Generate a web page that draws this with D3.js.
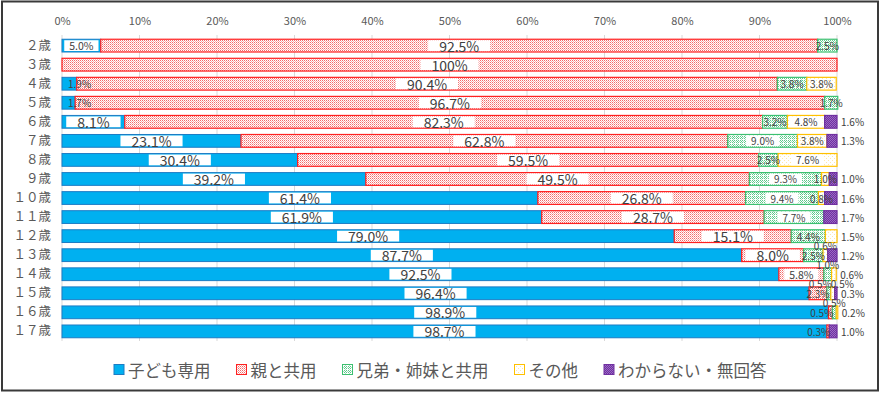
<!DOCTYPE html>
<html>
<head>
<meta charset="utf-8">
<script src="https://cdn.jsdelivr.net/npm/d3@7"></script>
<style>
  body { margin: 0; background: #fff; }
  text { font-family: "Noto Sans CJK JP", "Noto Sans", sans-serif; }
</style>
</head>
<body>
<div id="chart"></div>
<script>
// categories and series
const ages = ["２歳", "３歳", "４歳", "５歳", "６歳", "７歳", "８歳", "９歳", "１０歳", "１１歳", "１２歳", "１３歳", "１４歳", "１５歳", "１６歳", "１７歳"];
const seriesNames = ["子ども専用", "親と共用", "兄弟・姉妹と共用", "その他", "わからない・無回答"];

// values (%) per age
const kodomo = [5.0, 0, 1.9, 1.7, 8.1, 23.1, 30.4, 39.2, 61.4, 61.9, 79.0, 87.7, 92.5, 96.4, 98.9, 98.7];
const oya = [92.5, 100, 90.4, 96.7, 82.3, 62.8, 59.5, 49.5, 26.8, 28.7, 15.1, 8.0, 5.8, 2.3, 0.5, 0.3];
const kyodai = [2.5, 0, 3.8, 1.7, 3.2, 9.0, 2.5, 9.3, 9.4, 7.7, 4.4, 2.5, 1.0, 0.5, 0.5, 0];
const sonota = [0, 0, 3.8, 0, 4.8, 3.8, 7.6, 1.0, 0.8, 0, 1.5, 0.6, 0.6, 0.5, 0.2, 0];
const fumei = [0, 0, 0, 0, 1.6, 1.3, 0, 1.0, 1.6, 1.7, 0, 1.2, 0, 0.3, 0, 1.0];

const xTicks = [0, 10, 20, 30, 40, 50, 60, 70, 80, 90, 100];

// labels that Excel moved above the bar (row -> series index -> mode)
const aboveLabels = {
    "１３歳": { 3: "above" },
    "１４歳": { 2: "above" },
    "１５歳": { 2: "aboveL", 3: "aboveR" },
    "１６歳": { 2: "above" }
};

const values = [kodomo, oya, kyodai, sonota, fumei];
const colors = ["#00B0F0", "#FF0000", "#00B050", "#FFC000", "#7030A0"];
const strokes = ["#1C7CC4", "#FF2020", "#3CC070", "#FFC000", "#7030A0"];

const width = 882, height = 394;
const svg = d3.select("#chart").append("svg")
    .attr("width", width)
    .attr("height", height);

// fill patterns
const defs = svg.append("defs");
const pat = (id, size, bg, dots) => {
    const p = defs.append("pattern").attr("id", id)
        .attr("patternUnits", "userSpaceOnUse")
        .attr("width", size).attr("height", size);
    p.append("rect").attr("width", size).attr("height", size).attr("fill", bg);
    dots.forEach(d => p.append("rect").attr("x", d[0]).attr("y", d[1])
        .attr("width", 1).attr("height", 1).attr("fill", d[2]));
};
pat("p1", 2, "#FFFFFF", [[0, 0, "#F46A6A"], [1, 1, "#F9B0B0"]]);
// green: little checker blocks separated by white lines
pat("p2", 4, "#FFFFFF", [[0, 0, "#5CC98A"], [2, 0, "#5CC98A"], [1, 1, "#5CC98A"], [0, 2, "#5CC98A"], [2, 2, "#5CC98A"], [1, 3, "#A8E2C0"], [3, 1, "#A8E2C0"]]);
pat("p3", 4, "#FFFFFF", [[0, 0, "#FFE9A8"], [2, 2, "#FFE9A8"]]);
pat("p4", 2, "#7030A0", [[0, 0, "#9A6AC4"], [1, 1, "#9A6AC4"]]);
const fills = [colors[0], "url(#p1)", "url(#p2)", "url(#p3)", "url(#p4)"];

// frame
svg.append("rect")
    .attr("x", 2).attr("y", 1.5)
    .attr("width", 876).attr("height", 389)
    .attr("fill", "none")
    .attr("stroke", "#3A3A3A")
    .attr("stroke-width", 2);

const x = d3.scaleLinear().domain([0, 100]).range([62, 837]);
const y = d3.scaleBand().domain(ages).range([36, 341]).paddingInner(0.33).paddingOuter(0.17);

// grid
svg.append("g")
    .selectAll("line")
    .data(xTicks)
    .join("line")
    .attr("x1", d => x(d)).attr("x2", d => x(d))
    .attr("y1", 35).attr("y2", 341)
    .attr("stroke", "#D9D9D9");

// top axis
const xAxis = svg.append("g")
    .attr("transform", "translate(0,28)")
    .call(d3.axisTop(x).tickValues(xTicks).tickFormat(d => d + "%").tickSize(0))
    .call(g => g.select(".domain").remove());
xAxis.selectAll("text")
    .attr("fill", "#595959")
    .style("font-size", "11px")
    .style("font-family", "'Noto Sans CJK JP', sans-serif");

// left axis
const yAxis = svg.append("g")
    .attr("transform", "translate(51,0)")
    .call(d3.axisLeft(y).tickSize(0).tickPadding(0))
    .call(g => g.select(".domain").remove());
yAxis.selectAll("text")
    .attr("fill", "#595959")
    .style("font-size", "12.5px")
    .style("font-family", "'Noto Sans CJK JP', sans-serif");

// stacked segments
const rows = ages.map((a, i) => {
    const r = { age: a };
    seriesNames.forEach((s, k) => r[s] = values[k][i]);
    return r;
});
const stack = d3.stack().keys(seriesNames)(rows);

const barG = svg.append("g");
stack.forEach((layer, k) => {
    barG.append("g")
        .selectAll("rect")
        .data(layer.filter(d => d[1] - d[0] > 0))
        .join("rect")
        .attr("x", d => x(d[0]))
        .attr("y", d => y(d.data.age))
        .attr("width", d => x(d[1]) - x(d[0]))
        .attr("height", y.bandwidth())
        .attr("fill", fills[k])
        .attr("stroke", strokes[k])
        .attr("stroke-width", k == 0 ? 1 : 1.2);
});

// data labels
const labelG = svg.append("g");
stack.forEach((layer, k) => {
    layer.forEach((d, i) => {
        const v = d[1] - d[0];
        if (v <= 0) return;
        const age = d.data.age;
        const x0 = x(d[0]), x1 = x(d[1]);
        const cy = y(age) + y.bandwidth() / 2;
        const big = k <= 1 && v >= 8;
        const fs = big ? 14 : (k <= 1 && v >= 5 ? 10.5 : 10);
        const txt = v == 100 ? "100%" : v.toFixed(1) + "%";
        const isLast = values.slice(k + 1).every(arr => arr[i] == 0);

        let mode = "center";
        if (aboveLabels[age] && aboveLabels[age][k]) mode = aboveLabels[age][k];
        else if (k >= 3 && isLast && v < 2) mode = "right";
        else if (k == 1 && v < 1) mode = "left";
        else if (k == 0 && v < 3) mode = "start";

        const t = labelG.append("text")
            .attr("fill", "#404040")
            .style("font-size", fs + "px")
            .attr("dominant-baseline", "central")
            .text(txt);

        let tx = (x0 + x1) / 2, ty = cy, anchor = "middle";
        if (mode == "right") { tx = x1 + 4; anchor = "start"; }
        if (mode == "left") { tx = x1 + 1; anchor = "end"; }
        if (mode == "start") { tx = x0 + 6; anchor = "start"; }
        if (mode == "above") { ty = cy - 10; }
        if (mode == "aboveL") { tx = x1 + 1; ty = cy - 10; anchor = "end"; }
        if (mode == "aboveR") { tx = x0; ty = cy - 10; anchor = "start"; }
        t.attr("x", tx).attr("y", ty).attr("text-anchor", anchor);

        if (mode == "center") {
            const tw = t.node().getComputedTextLength();
            const pad = big ? 11 : 5;
            const bw = tw + pad * 2;
            if (x1 - x0 >= bw + 4) {
                labelG.insert("rect", () => t.node())
                    .attr("x", tx - bw / 2)
                    .attr("y", y(age) + 1)
                    .attr("width", bw)
                    .attr("height", y.bandwidth() - 2)
                    .attr("fill", "#FFFFFF");
            }
        }
    });
});

// legend
const legend = svg.append("g").attr("transform", "translate(0,370)");
let lx = 114;
seriesNames.forEach((s, k) => {
    legend.append("rect")
        .attr("x", lx).attr("y", -5.5)
        .attr("width", 10).attr("height", 10)
        .attr("fill", fills[k])
        .attr("stroke", strokes[k]);
    const t = legend.append("text")
        .attr("x", lx + 14)
        .attr("y", 0)
        .attr("dominant-baseline", "central")
        .attr("fill", "#595959")
        .style("font-size", "16.5px")
        .text(s);
    lx += 14 + t.node().getComputedTextLength() + 26;
});
</script>
</body>
</html>
